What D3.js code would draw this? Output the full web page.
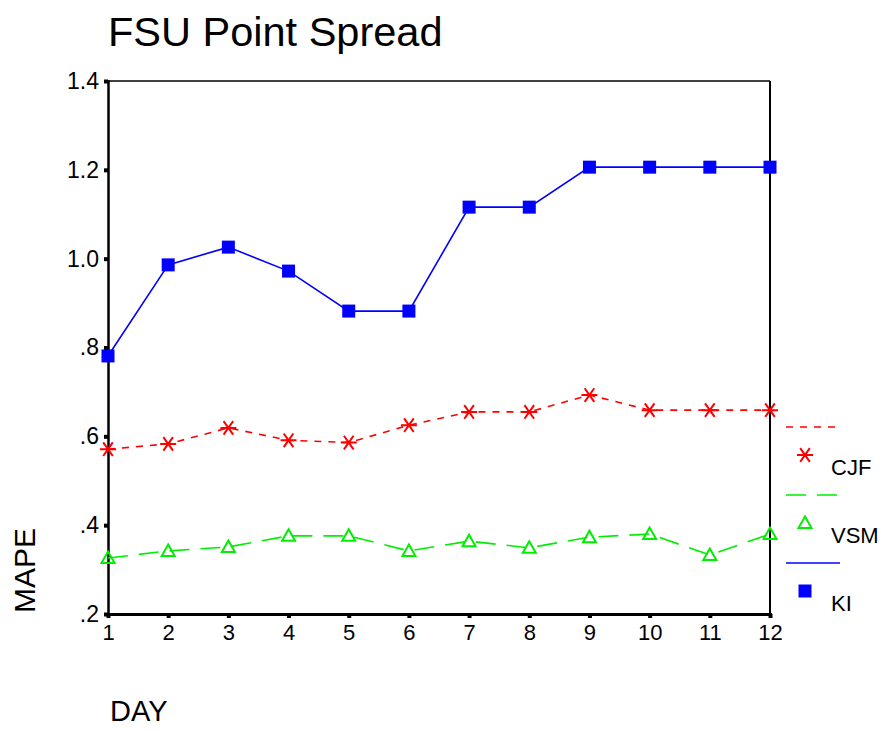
<!DOCTYPE html>
<html>
<head>
<meta charset="utf-8">
<script src="https://cdn.jsdelivr.net/npm/d3@7"></script>
<style>
body { margin: 0; background: #fff; }
text { font-family: Arial, "Liberation Sans", sans-serif; }
</style>
</head>
<body>
<script>
var w = 883, h = 730;

var days = [1, 2, 3, 4, 5, 6, 7, 8, 9, 10, 11, 12];
var cjf = [0.571, 0.583, 0.619, 0.591, 0.586, 0.625, 0.655, 0.655, 0.693, 0.659, 0.659, 0.659];
var vsm = [0.326, 0.342, 0.351, 0.376, 0.376, 0.342, 0.364, 0.349, 0.373, 0.380, 0.333, 0.380];
var ki = [0.781, 0.986, 1.026, 0.972, 0.882, 0.882, 1.116, 1.116, 1.206, 1.206, 1.206, 1.206];
var yTicks = [0.2, 0.4, 0.6, 0.8, 1.0, 1.2, 1.4];
var yTickLabels = ['.2', '.4', '.6', '.8', '1.0', '1.2', '1.4'];

var series = [
    { name: 'CJF', values: cjf, color: '#ff0000', dash: '7,7', marker: 'star' },
    { name: 'VSM', values: vsm, color: '#00ee00', dash: '20,11', marker: 'triangle' },
    { name: 'KI', values: ki, color: '#0000ff', dash: null, marker: 'square' }
];

var pLeft = 108, pRight = 770, pTop = 81, pBottom = 614;

var x = d3.scaleLinear().domain([1, 12]).range([pLeft, pRight]);
var y = d3.scaleLinear().domain([0.2, 1.4]).range([pBottom, pTop]);

var svg = d3.select('body').append('svg')
    .attr('width', w)
    .attr('height', h);

// title
svg.append('text')
    .attr('x', 108)
    .attr('y', 46)
    .style('font-size', '41.5px')
    .text('FSU Point Spread');

// frame
svg.append('line').attr('x1', pLeft).attr('x2', pRight).attr('y1', pTop).attr('y2', pTop)
    .attr('stroke', '#000').attr('stroke-width', 1.5);
svg.append('line').attr('x1', pRight).attr('x2', pRight).attr('y1', pTop).attr('y2', pBottom)
    .attr('stroke', '#000').attr('stroke-width', 2);

// y axis
var yAxis = d3.axisLeft(y)
    .tickValues(yTicks)
    .tickSize(4)
    .tickPadding(5)
    .tickFormat((d, i) => yTickLabels[i]);
var gy = svg.append('g').attr('transform', 'translate(' + pLeft + ',0)').call(yAxis);
gy.select('.domain').attr('stroke-width', 2.5);
gy.selectAll('.tick line').attr('stroke-width', 4);
gy.selectAll('.tick text').style('font-size', '23px').style('font-family', 'Arial, "Liberation Sans", sans-serif');

// x axis
var xAxis = d3.axisBottom(x)
    .tickValues(days)
    .tickSize(4)
    .tickPadding(6)
    .tickFormat(d3.format('d'));
var gx = svg.append('g').attr('transform', 'translate(0,' + pBottom + ')').call(xAxis);
gx.select('.domain').attr('stroke-width', 3);
gx.selectAll('.tick line').attr('stroke-width', 4);
gx.selectAll('.tick text').style('font-size', '22px').style('font-family', 'Arial, "Liberation Sans", sans-serif');

// axis titles
svg.append('text')
    .attr('transform', 'translate(35,613) rotate(-90)')
    .style('font-size', '30px')
    .text('MAPE');
svg.append('text')
    .attr('x', 110)
    .attr('y', 721)
    .style('font-size', '29px')
    .text('DAY');

function drawMarker(g, type, color, cx, cy) {
    if (type === 'square') {
        g.append('rect')
            .attr('x', cx - 6.5).attr('y', cy - 6.5)
            .attr('width', 13).attr('height', 13)
            .attr('fill', color);
    } else if (type === 'triangle') {
        g.append('path')
            .attr('d', 'M' + cx + ',' + (cy - 6.5) + 'L' + (cx + 6.5) + ',' + (cy + 5) + 'L' + (cx - 6.5) + ',' + (cy + 5) + 'Z')
            .attr('fill', 'none')
            .attr('stroke', color)
            .attr('stroke-width', 2);
    } else {
        var r = 8;
        var d = 'M' + (cx - r) + ',' + cy + 'L' + (cx + r) + ',' + cy +
            'M' + (cx - r * 0.6) + ',' + (cy - r * 0.85) + 'L' + (cx + r * 0.6) + ',' + (cy + r * 0.85) +
            'M' + (cx + r * 0.6) + ',' + (cy - r * 0.85) + 'L' + (cx - r * 0.6) + ',' + (cy + r * 0.85);
        g.append('path')
            .attr('d', d)
            .attr('fill', 'none')
            .attr('stroke', color)
            .attr('stroke-width', 2);
    }
}

var line = d3.line()
    .x((d, i) => x(days[i]))
    .y(d => y(d));

series.forEach(function(s) {
    var g = svg.append('g');
    g.append('path')
        .attr('d', line(s.values))
        .attr('fill', 'none')
        .attr('stroke', s.color)
        .attr('stroke-width', 1.6)
        .attr('stroke-dasharray', s.dash);
    s.values.forEach(function(v, i) {
        drawMarker(g, s.marker, s.color, x(days[i]), y(v));
    });
});

// legend
var legend = svg.append('g');
series.forEach(function(s, i) {
    var y0 = 427 + i * 68;
    legend.append('line')
        .attr('x1', 786).attr('x2', 840)
        .attr('y1', y0).attr('y2', y0)
        .attr('stroke', s.color)
        .attr('stroke-width', 1.6)
        .attr('stroke-dasharray', s.dash);
    drawMarker(legend, s.marker, s.color, 805, y0 + 28);
    legend.append('text')
        .attr('x', 831)
        .attr('y', y0 + 48)
        .style('font-size', '22px')
        .text(s.name);
});
</script>
</body>
</html>
